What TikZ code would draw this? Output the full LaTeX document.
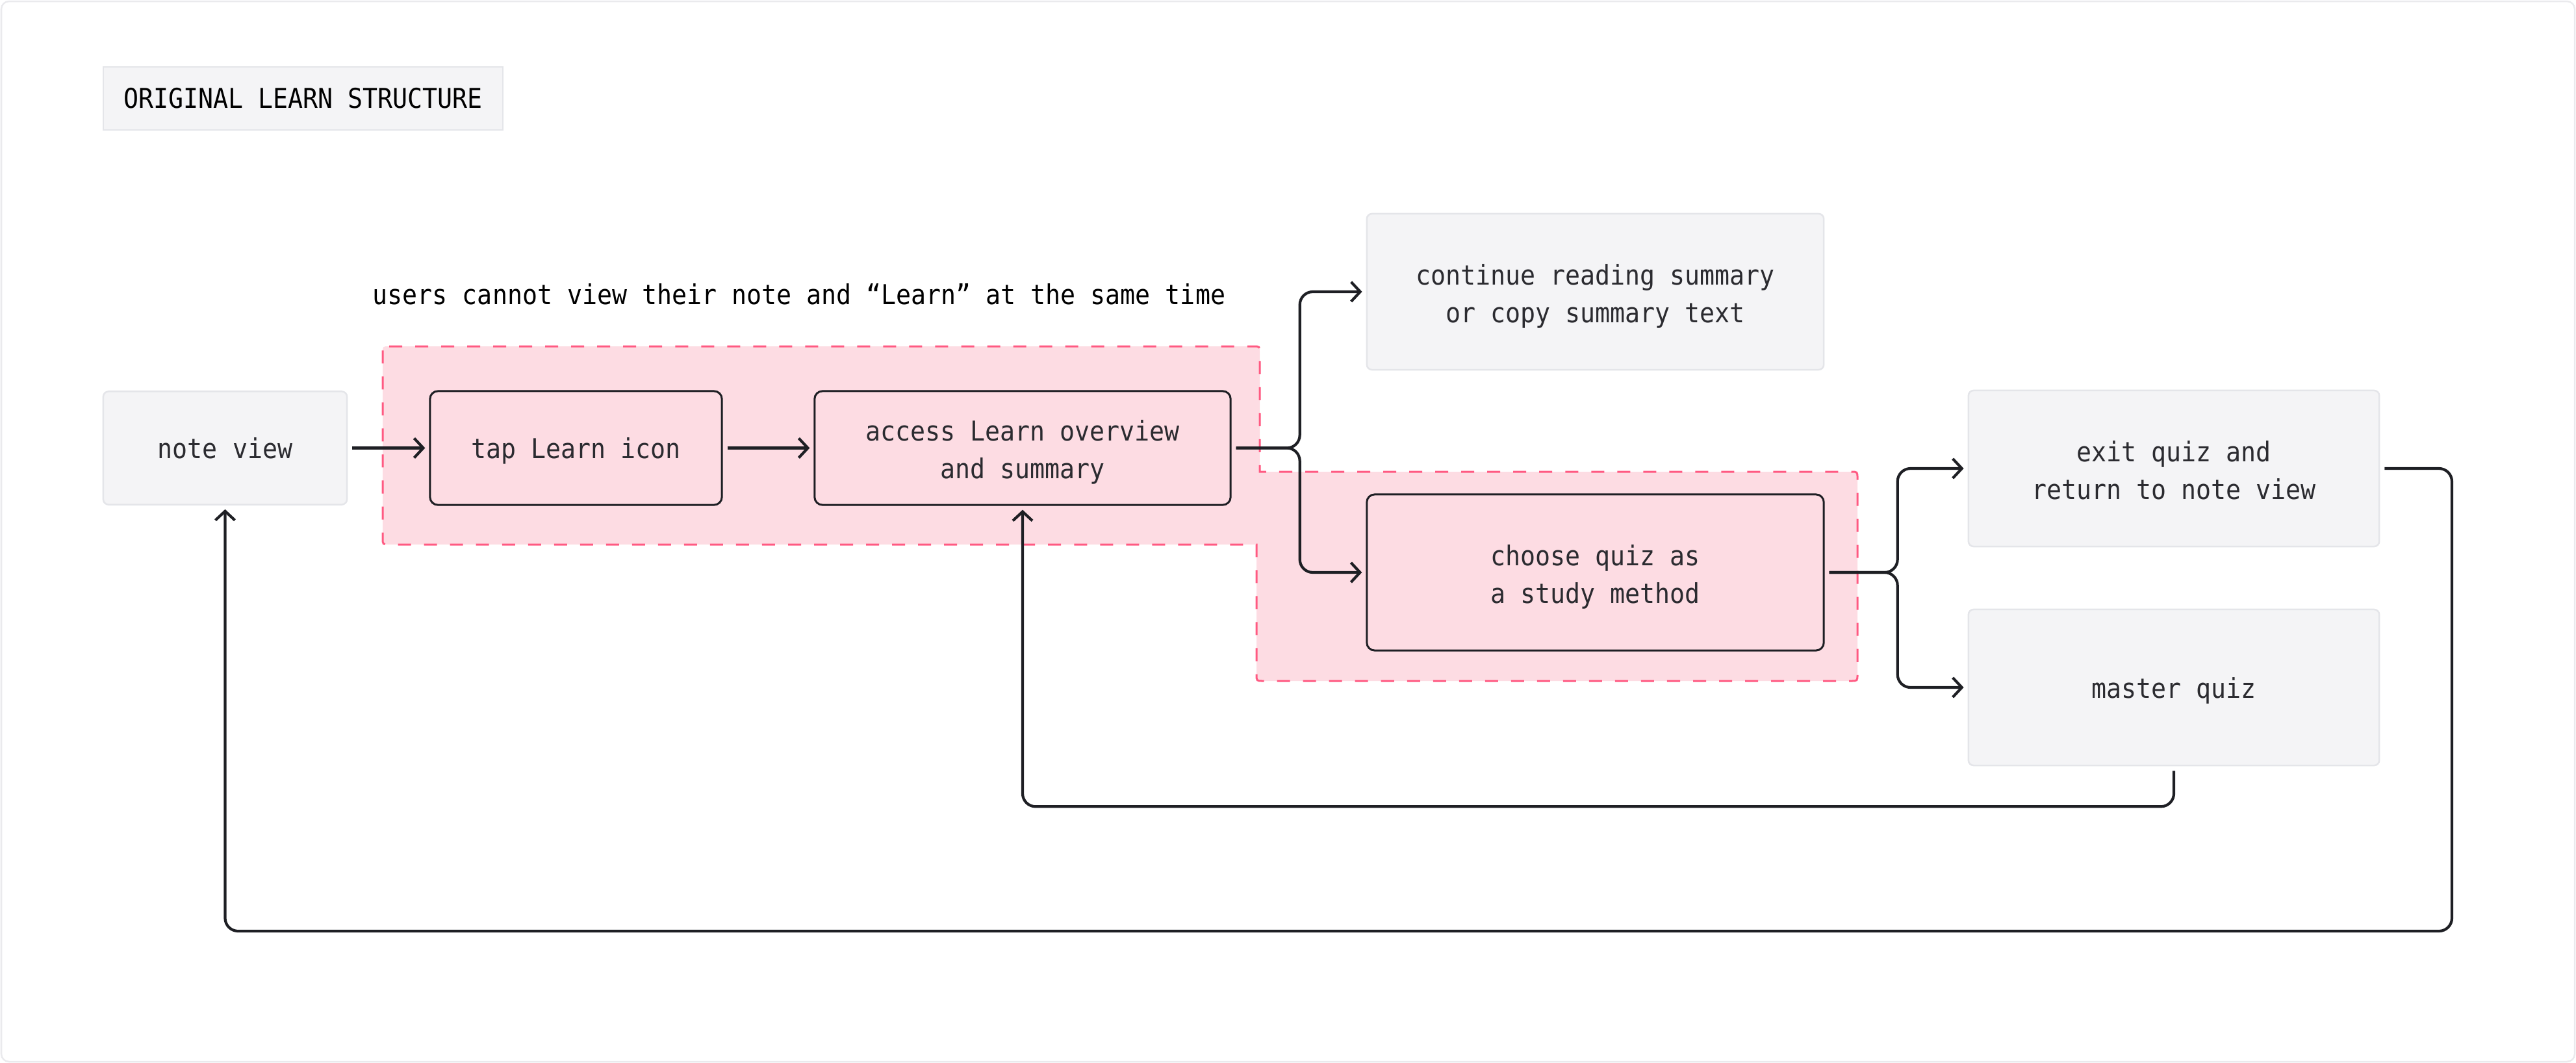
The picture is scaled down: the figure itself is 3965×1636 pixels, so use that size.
\documentclass[tikz,border=0pt]{standalone}
\usepackage{fontspec}
\newfontfamily\dmono[FakeStretch=0.91]{DejaVu Sans Mono}
\usetikzlibrary{arrows.meta}
\definecolor{boxfill}{HTML}{F4F4F6}
\definecolor{boxline}{HTML}{E4E5E9}
\definecolor{pinkfill}{HTML}{FDDCE3}
\definecolor{pinkline}{HTML}{FF5A82}
\definecolor{ink}{HTML}{1E1F24}
\definecolor{txt}{HTML}{2B2B30}
\definecolor{framec}{HTML}{EAEAED}
\begin{document}
\begin{tikzpicture}[x=0.01cm,y=-0.01cm,
  every node/.style={font=\dmono\fontsize{11.95pt}{16.5pt}\selectfont, text=txt, align=center, inner sep=0pt},
  oneline/.style={text height=0.40cm, text depth=0.08cm},
  twoline/.style={text height=1.02cm, text depth=0.08cm},
  graybox/.style={draw=boxline, line width=0.025cm, fill=boxfill, rounded corners=0.08cm},
  stepbox/.style={draw=ink, line width=0.03cm, fill=pinkfill, rounded corners=0.12cm},
  conn/.style={draw=ink, line width=0.042cm, rounded corners=0.2cm, -{Straight Barb[length=0.14cm,width=0.3cm]}, shorten <=0.07cm, shorten >=0.06cm},
  zone/.style={draw=pinkline, fill=pinkfill, line width=0.03cm, dash pattern=on 0.2cm off 0.2cm}
  ]
\useasboundingbox (0,0) rectangle (3965,1636);
\draw[framec, line width=0.025cm, rounded corners=0.12cm] (2,2) rectangle (3963,1634);

% highlighted zone (convex corners rounded, concave corners sharp)
\draw[zone] (599,533) -- (1929,533) .. controls (1939,533) .. (1939,543)
  -- (1939,726) -- (2849,726) .. controls (2859,726) .. (2859,736)
  -- (2859,1038) .. controls (2859,1048) .. (2849,1048)
  -- (1944,1048) .. controls (1934,1048) .. (1934,1038)
  -- (1934,838) -- (599,838) .. controls (589,838) .. (589,828)
  -- (589,543) .. controls (589,533) .. (599,533) -- cycle;

% title and caption
\node[draw=boxline, fill=boxfill, line width=0.025cm, minimum width=6.15cm, minimum height=0.97cm, text=black] (title) at (466.5,151.5) {ORIGINAL LEARN STRUCTURE};
\node[anchor=base, text=black] (caption) at (1230,468) {users cannot view their note and “Learn” at the same time};

% boxes
\node[graybox, oneline, minimum width=3.75cm, minimum height=1.74cm] (nv) at (346.5,689.5) {note view};
\node[stepbox, oneline, minimum width=4.49cm, minimum height=1.75cm] (tap) at (886.5,689.5) {tap Learn icon};
\node[stepbox, twoline, minimum width=6.40cm, minimum height=1.75cm] (acc) at (1574,689.5) {access Learn overview\\and summary};
\node[graybox, twoline, minimum width=7.03cm, minimum height=2.40cm] (cont) at (2455.5,449) {continue reading summary\\or copy summary text};
\node[stepbox, twoline, minimum width=7.03cm, minimum height=2.40cm] (choose) at (2455.5,881) {choose quiz as\\a study method};
\node[graybox, twoline, minimum width=6.32cm, minimum height=2.40cm] (exit) at (3346,721) {exit quiz and\\return to note view};
\node[graybox, oneline, minimum width=6.32cm, minimum height=2.40cm] (master) at (3346,1058) {master quiz};

\coordinate (loopcorner) at (3774,1433);

% connectors
\draw[conn] (nv.east) -- (tap.west);
\draw[conn] (tap.east) -- (acc.west);
\draw[conn] (acc.east) -- ++(105,0) |- (cont.west);
\draw[conn] (acc.east) -- ++(105,0) |- (choose.west);
\draw[conn] (choose.east) -- ++(112,0) |- (exit.west);
\draw[conn] (choose.east) -- ++(112,0) |- (master.west);
\draw[conn] (master.south) -- ++(0,62) -| (acc.south);
\draw[conn] (exit.east) -| (loopcorner) -| (nv.south);
\end{tikzpicture}
\end{document}
